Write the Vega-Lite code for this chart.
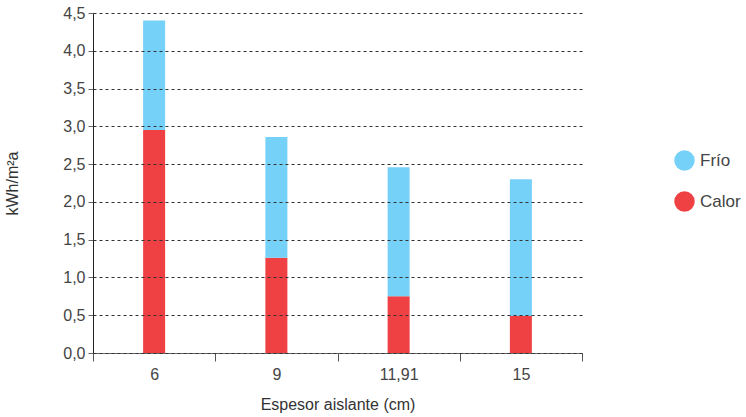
{
  "$schema": "https://vega.github.io/schema/vega-lite/v6.json",
  "width": 489,
  "height": 340,
  "autosize": {"type": "none"},
  "padding": {"left": 93, "top": 13, "right": 164, "bottom": 64},
  "background": "white",
  "config": {
    "view": {"stroke": null},
    "font": "Liberation Sans",
    "axis": {"labelFont": "Liberation Sans", "titleFont": "Liberation Sans", "labelColor": "#444", "titleColor": "#333", "labelFontSize": 16, "titleFontSize": 16, "titleFontWeight": "normal"},
    "legend": {"labelFont": "Liberation Sans", "labelFontSize": 17, "labelColor": "#444"}
  },
  "data": {
    "values": [
      {"espesor": "6", "serie": "Calor", "valor": 2.95},
      {"espesor": "6", "serie": "Frío", "valor": 1.45},
      {"espesor": "9", "serie": "Calor", "valor": 1.26},
      {"espesor": "9", "serie": "Frío", "valor": 1.60},
      {"espesor": "11,91", "serie": "Calor", "valor": 0.75},
      {"espesor": "11,91", "serie": "Frío", "valor": 1.71},
      {"espesor": "15", "serie": "Calor", "valor": 0.49},
      {"espesor": "15", "serie": "Frío", "valor": 1.81}
    ]
  },
  "mark": {"type": "bar", "width": {"band": 0.18}},
  "encoding": {
    "x": {
      "field": "espesor", "type": "nominal", "sort": null,
      "scale": {"paddingInner": 0, "paddingOuter": 0},
      "axis": {"title": "Espesor aislante (cm)", "labelAngle": 0, "tickBand": "extent", "tickSize": 8, "tickColor": "#555", "domainColor": "#666", "labelPadding": 5, "titlePadding": 14}
    },
    "y": {
      "field": "valor", "type": "quantitative", "stack": "zero",
      "scale": {"domain": [0, 4.5], "nice": false},
      "axis": {"title": "kWh/m²a", "values": [0, 0.5, 1, 1.5, 2, 2.5, 3, 3.5, 4, 4.5], "labelExpr": "replace(format(datum.value, '.1f'), '.', ',')", "grid": true, "gridDash": [3, 3], "gridColor": "#333", "gridWidth": 1, "zindex": 1, "tickSize": 5, "tickColor": "#666", "domainColor": "#222", "labelPadding": 3, "titlePadding": 42}
    },
    "color": {
      "field": "serie", "type": "nominal",
      "scale": {"domain": ["Frío", "Calor"], "range": ["#76d1f8", "#ef4044"]},
      "legend": {"title": null, "orient": "none", "legendX": 581, "legendY": 137, "symbolType": "circle", "symbolSize": 420, "symbolStrokeWidth": 0, "rowPadding": 20, "labelOffset": 5}
    },
    "order": {"field": "serie", "sort": "ascending"}
  }
}
